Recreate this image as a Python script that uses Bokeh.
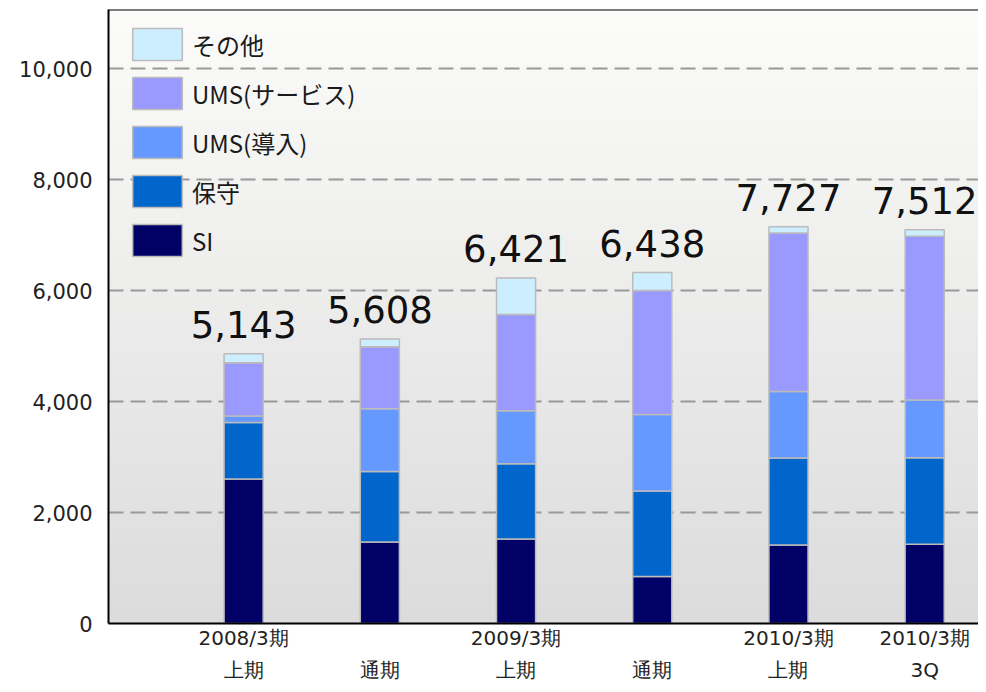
import numpy as np
from bokeh.plotting import figure
from bokeh.models import (Range1d, FixedTicker, Span, Legend, LegendItem,
                          NumeralTickFormatter, ColumnDataSource)
from bokeh.core.properties import value
from bokeh.embed import file_html
from bokeh.resources import INLINE

# ---------------- data ----------------
periods = ["2008/3期\n上期", " \n通期", "2009/3期\n上期", " \n通期", "2010/3期\n上期", "2010/3期\n3Q"]
positions = [0, 1, 2, 3, 4, 5]
si = [2606, 1471, 1524, 849, 1414, 1431]
hoshu = [1018, 1269, 1356, 1542, 1570, 1559]
ums_intro = [116, 1134, 954, 1379, 1199, 1041]
ums_service = [960, 1117, 1739, 2233, 2856, 2950]
other = [162, 140, 657, 327, 116, 117]
total_labels = ["5,143", "5,608", "6,421", "6,438", "7,727", "7,512"]
series_names = ["SI", "保守", "UMS(導入)", "UMS(サービス)", "その他"]
series_colors = ["#000066", "#0066CC", "#6699FF", "#9999FF", "#CCEEFF"]
y_ticks = [0, 2000, 4000, 6000, 8000, 10000]

Y_END = 11070
X_START, X_END = -0.992, 5.395

source = ColumnDataSource(dict(
    x=positions, SI=si, 保守=hoshu,
    **{"UMS(導入)": ums_intro, "UMS(サービス)": ums_service, "その他": other}
))

p = figure(width=978, height=684, output_backend="svg", toolbar_location=None,
           x_range=Range1d(X_START, X_END), y_range=Range1d(0, Y_END),
           min_border_left=108, min_border_right=0, min_border_top=9, min_border_bottom=30)
p.outline_line_color = None
p.background_fill_color = "#e8e8e8"
p.border_fill_color = "white"

# gradient background (decoration)
N = 256
img = np.empty((N, 1), dtype=np.uint32)
view = img.view(dtype=np.uint8).reshape((N, 1, 4))
g = np.linspace(220, 252, N).astype(np.uint8)
view[:, 0, 0] = g
view[:, 0, 1] = g
view[:, 0, 2] = g - np.linspace(0, 2, N).astype(np.uint8)
view[:, 0, 3] = 255
p.image_rgba(image=[img], x=X_START, y=0, dw=X_END - X_START, dh=Y_END, level="image")

# grid
p.xgrid.grid_line_color = None
p.ygrid.ticker = FixedTicker(ticks=y_ticks)
p.ygrid.grid_line_color = "#999999"
p.ygrid.grid_line_width = 2
p.ygrid.grid_line_dash = "15 7"

# bars
renderers = p.vbar_stack(series_names, x="x", width=0.287, color=series_colors,
                         line_color="#bbbbbb", line_width=1.5, source=source)

# totals
totals = [a + b + c + d + e for a, b, c, d, e in zip(si, hoshu, ums_intro, ums_service, other)]
p.text(x=positions, y=totals, text=total_labels, text_align="center",
       text_baseline="alphabetic", y_offset=-29,
       text_font=value("DejaVu Sans"), text_font_size="37px", text_color="#111111")

# axes
p.yaxis.ticker = FixedTicker(ticks=y_ticks)
p.yaxis.formatter = NumeralTickFormatter(format="0,0")
p.yaxis.axis_line_color = "black"
p.yaxis.axis_line_width = 2
p.yaxis.major_tick_line_color = None
p.yaxis.minor_tick_line_color = None
p.yaxis.major_tick_out = 0
p.yaxis.major_tick_in = 0
p.yaxis.major_label_standoff = 16
p.yaxis.major_label_text_font = "DejaVu Sans"
p.yaxis.major_label_text_font_size = "21px"
p.yaxis.major_label_text_color = "#222222"

p.xaxis.ticker = FixedTicker(ticks=positions)
p.xaxis.major_label_overrides = {pos: lab for pos, lab in zip(positions, periods)}
p.xaxis.axis_line_color = "black"
p.xaxis.axis_line_width = 2
p.xaxis.major_tick_line_color = None
p.xaxis.minor_tick_line_color = None
p.xaxis.major_tick_out = 0
p.xaxis.major_tick_in = 0
p.xaxis.major_label_standoff = 2
p.xaxis.major_label_text_font = "DejaVu Sans"
p.xaxis.major_label_text_font_size = "20px"
p.xaxis.major_label_text_color = "#222222"
p.xaxis.major_label_text_line_height = 1.35

# top border
p.add_layout(Span(location=Y_END, dimension="width", line_color="black", line_width=2))

# legend (reverse order: その他 at top)
items = [LegendItem(label=name, renderers=[r]) for name, r in zip(series_names, renderers)][::-1]
legend = Legend(items=items, location=(18, 363), padding=0, margin=0,
                glyph_width=62, glyph_height=40, spacing=9, label_standoff=4,
                label_text_font="Noto Sans CJK JP", label_text_font_size="24px",
                label_text_color="#1a1a1a", background_fill_alpha=0,
                border_line_color=None)
p.add_layout(legend, "center")

open("out.html", "w").write(file_html(p, INLINE))
